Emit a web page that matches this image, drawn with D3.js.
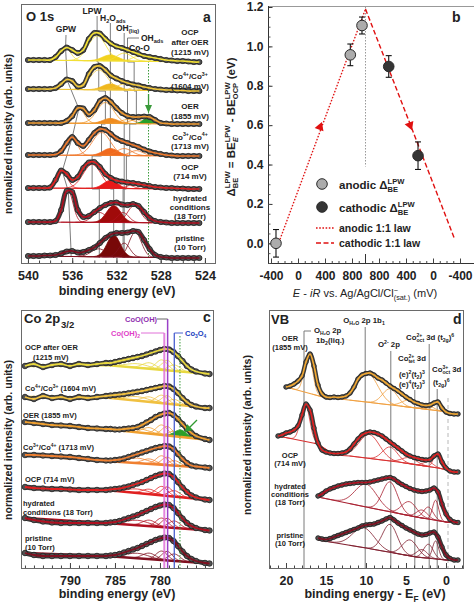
<!DOCTYPE html>
<html>
<head>
<meta charset="utf-8">
<script src="https://cdn.jsdelivr.net/npm/d3@7/dist/d3.min.js"></script>
<style>
html,body{margin:0;padding:0;background:#fff;}
svg{display:block;}
text{font-family:"Liberation Sans",Arial,Helvetica,sans-serif;}
</style>
</head>
<body>
<svg id="fig" width="474" height="603"></svg>
<script>
// ======================= DATA =======================
// ---- Panel a : O 1s (binding energy, stacked intensity) ----
const beA = [540,539.5,539,538.5,538,537.5,537,536.5,536,535.5,535,534.5,534,533.5,533,532.5,532,531.5,531,530.5,530,529.5,529,528.5,528,527.5,527,526.5,526,525.5,525,524.5];
const o1sAfterOER = [203,203,203,203,203,206,212,215.5,213,210,213,224,230,229.5,224,219.5,216.5,215,213,211,209,207,206,205,204,203,202.5,202,202,201.5,201,201];
const o1s1604     = [174,174,174,174,174,175,179,183.5,182,176.5,178,189,196,197,193,187.5,184.5,182,180,178.5,177.5,176,175,174,173.5,173,173,172.5,172.5,172,172,172];
const o1sOER      = [140,140,140,140,140,140,140,142,147,155,154.5,148.5,153,162,165,161,155,150,147,146,146,146.5,146,143,140,139.5,139,139,139,139,139,139];
const o1s1713     = [108,108,108,108,108,108.5,112,120,126,120,117,123,130,134,133,129,124.5,122,120,118,116,113.5,111.5,110,109,108,107.5,107,107,107,107,107];
const o1sOCP      = [75,75,75,75,75.5,83,92.5,89,83,86,95,100.5,101,96,89,85,82.5,81.5,80.5,80,79,78,77,76,75.5,75,75,74.5,74.5,74,74,74];
const o1sHydrated = [41,41,41,41,41,42,53,72,71,53,46,47,51,55,58,60,60.5,58.5,58,59,57,51,45,42,41,40.5,40,40,40,40,40,40];
const o1sPristine = [7,7,7,7.5,7.5,8,9.5,11.5,12,10.5,11,13,15.5,20,25,28.5,30,30,30.5,32,31,23,14,8,6,5.5,5,5,5,5,5,5];
// background end values (left, right)
const o1sBg = [[203,201],[174,172],[140,139],[108,107],[75,74],[41,40],[7,5]];
// fit components [centre eV, height, fwhm]: GPW, LPW, H2O_ads (filled), OH, Co-O (+ green)
const o1sComps = [
  [[536.6,12.5,1.1],[533.75,25,1.9],[532.55,6,1.7],[531.3,8,1.6],[530.0,5,1.4]],
  [[536.45,9,1.1],[533.6,20,1.9],[532.55,6,1.7],[531.3,6,1.6],[530.0,4,1.4]],
  [[535.4,14.5,1.2],[533.0,21,1.8],[532.55,5,1.6],[531.0,4,1.5],[530.2,4,1.4],[529.1,6,1.1]],
  [[536.0,18,1.1],[533.35,23,1.9],[532.55,7,1.6],[531.3,7,1.6],[530.2,5,1.4]],
  [[536.9,17,1.1],[534.2,24,1.9],[532.55,8,1.5],[531.3,5,1.5],[530.3,5,1.4]],
  [[536.35,31,1.0],[533.55,10,1.5],[532.25,17,1.5],[531.4,10,1.2],[530.4,17,1.4]],
  [[536.1,4.5,1.1],[533.6,8,1.6],[532.25,22,1.4],[531.3,14,1.2],[530.3,25,1.3]]
];
const o1sOHads = [531.0,530.4,530.2,530.8,531.1,531.3];
const o1sGreenBE = 529.1;
const o1sLabels = [
  [[['OCP']],[['after OER']],[['(1215 mV)']]],
  [[['Co'],['4+','sup'],['/Co'],['3+','sup']],[['(1604 mV)']]],
  [[['OER']],[['(1855 mV)']]],
  [[['Co'],['3+','sup'],['/Co'],['4+','sup']],[['(1713 mV)']]],
  [[['OCP']],[['(714 mV)']]],
  [[['hydrated']],[['conditions']],[['(18 Torr)']]],
  [[['pristine']],[['(10 Torr)']]]
];
const ticksA = [540,536,532,528,524];

// ---- Panel b : LPW shift vs potential ----
const anodicE = [-326, 775, 948];
const anodicD = [0.00, 0.957, 1.106];
const anodicErr = [0.07, 0.055, 0.043];
const cathodicE = [656, 222];
const cathodicD = [0.898, 0.445];
const cathodicErr = [0.055, 0.07];
const anodicLawE = [-267, 1000], anodicLawD = [0.02, 1.19];
const cathodicLawE = [1000, -311], cathodicLawD = [1.19, 0.03];
const anodicArrow = [326, 0.59], cathodicArrow = [341, 0.60];
const ticksBLeft = [-400,0,400,800], ticksBRight = [800,400,0,-400];
const ticksBY = [0,0.2,0.4,0.6,0.8,1.0,1.2];

// ---- Panel c : Co 2p3/2 ----
const beC = [795,794,793,792,791,790,789,788,787,786,785.5,785,784.5,784,783.5,783,782.5,782,781.5,781,780.5,780,779.5,779,778.5,778,777.5,777,776.5,776,775,774.5];
const co2pAfterOER = [202,204,201,203,204,202,204,203,204,205,205,206,207,208,209,210,211,212,213.5,215,216.5,218,219,218.5,216,212,207,202,198.5,196.5,194.5,194];
const co2p1604     = [171,169,172,170,171,169,171,170,171,172,172.5,173,173.5,174,174.8,175.5,176.3,177,178,179,180,181,182,181.5,179,175,170,166,163,161.5,160,160];
const co2pOER      = [146,145,144,143,142.5,142,141,140,139.5,139,139,138.5,138.5,139,139.5,140,141,143,145.5,148,151,153,154.5,155,153,149,144,139,135,132,129,128];
const co2p1713     = [113,113,112.5,112,111.5,111,110,109,108,107.5,107.5,108,108.5,109.5,111,112.5,114,115.5,117,118.5,120,121,122,121.5,119,114,109,105,102.5,101.5,100.5,100];
const co2pOCP      = [81,80,79.5,79,79,78.5,78,78,78,78,78.5,79,79.5,80.5,81.5,83,84.5,86,88,90,92,93.5,94.5,94,91,86,80.5,76,72.5,70.5,68.5,68];
const co2pHydrated = [50,48,46.5,45.5,45,45,45,45,45,45,45.5,46,47,48.5,50,51.5,53,55,57,59,61,62.5,63.5,63,60,55,49.5,45,42,40,38,37.5];
const co2pPristine = [15,13,12,12,12,12,12,12,12,12,12.5,13,14,15.5,17,18.5,20,22,24,26,28,29.5,30.5,30,27,22,16.5,12,9,7,5,4.5];
const co2pBgBE = [795,786,774.5];
const co2pBg = [[202,203,194],[171,170.5,160],[146,139,128],[113,107,100],[81,78,68],[50,45,37.5],[15,12,4.5]];
const co2pComps = [
  [[782.5,4,3],[781.2,6,1.8],[779.8,10,1.5],[779.2,10,1.4],[778.4,6,1.5]],
  [[782.5,4,3],[781.2,5,1.8],[779.8,8,1.5],[779.2,8,1.4],[778.4,5,1.5]],
  [[782.5,4,3],[781.2,6,1.8],[779.8,10,1.5],[779.2,9,1.4],[778.4,5,1.5],[777.7,7,1.6]],
  [[782.5,5,3],[781.2,5,1.8],[779.8,9,1.5],[779.2,8,1.4],[778.4,5,1.5]],
  [[782.5,4,3],[781.2,5,1.8],[779.8,9,1.5],[779.2,9,1.4],[778.4,6,1.5]],
  [[782.5,5,3],[781.2,6,1.8],[779.8,9,1.5],[779.2,9,1.4],[778.4,7,1.5]],
  [[782.5,5,3],[781.2,6,1.8],[779.8,9,1.5],[779.2,9,1.4],[778.4,7,1.5]]
];
const co2pRefBE = [779.52, 779.15, 778.41, 777.78]; // Co(OH)2, CoO(OH), Co3O4, green
const ticksC = [790,785,780];

// ---- Panel d : valence band ----
const eD = [21,20.5,20,19.5,19,18.5,18,17.5,17,16.5,16,15.5,15,14.5,14,13.5,13,12.5,12,11.5,11,10.5,10,9.5,9,8.5,8,7.5,7,6.5,6,5.5,5,4.5,4,3.5,3,2.5,2,1.5,1,0.5,0,-0.5,-1,-1.5];
const vbOER = [null,null,181,182,184,187,192,206,214,202,183,174,171,170.5,171,170.5,171,172,175,181,189,193,194.5,195,193,190,188,185,182,179.5,177,174,171,168.5,166,164.5,163,162.5,163,165,166,160,156,154.5,154,154];
const vbOCP = [132,133,135,136,138,142,153,164,158,140,125,118,116,115,114.5,114.5,115,116,119,124,129,133,135,136,135.5,134,132,129,126,123,120,117,114,112,110.5,109.5,108.5,108,108.5,112,114,106,100,97,96,96];
const vbHydrated = [null,null,null,null,null,null,null,null,null,null,72,74,77,79,80.5,82,83,84,84.5,85,85.5,85.5,85.5,86,87,88,89,90,90.5,89,86,83.5,81.5,79.5,78,77,76.5,77,78,80,76,64,54,48.5,46,45.5];
const vbPristine = [null,null,null,null,null,null,null,null,null,null,30,29,28.5,29.5,31,32.5,34,35.5,37,38.5,40,42,43,43.5,44,45.5,47,49,50.5,48,45,42.5,40,38,36,34,33,33.5,35,36,31,21,13,9.5,8,8];
const vbBgE = [[20,15.4,10,3.75,-0.25,-1.5],[21,16,14,12,6,1,-1.5],[16,10,3.75,0,-1.5],[16,10,3.75,0,-1.5]];
const vbBgV = [[181,171,166,160,156,154],[132,124,113,112,106,100,96],[71,61,51,46,45],[28,20,11,8,7.5]];
const vbComps = [
  [[17.2,40,1.2],[9.8,29,3.0],[7.0,16,2.2],[4.6,7,2.2],[2.2,4,1.5],[1.2,8,0.9]],
  [[17.6,38,1.3],[9.6,24,3.0],[7.0,14,2.2],[4.6,6,2.2],[2.2,5,1.4],[1.2,14,0.9]],
  [[10.0,23,3.2],[7.0,30,2.2],[4.6,14,2.2],[3.0,8,1.6],[2.2,12,1.4],[1.3,20,0.9]],
  [[10.3,20,3.2],[7.0,28,2.2],[4.5,16,2.2],[3.0,8,1.6],[2.2,14,1.4],[1.3,18,0.9]]
];
const vbRefE = [17.75, 10.1, 6.9, 3.9, 2.1, 1.1];
const vbFermiE = -0.25;
const ticksD = [20,15,10,5,0];

// ======================= DRAWING =======================
const INK = '#222';
const svg = d3.select('#fig');

function gauss(e,c,h,w){ const z=(e-c)/w; return h*Math.exp(-4*Math.LN2*z*z); }

function rich(g, x, y, parts, fs, o){
  o = o || {};
  const t = g.append('text').attr('x',x).attr('y',y).attr('font-size',fs)
    .attr('font-weight', o.weight || 'bold').attr('fill', o.fill || INK)
    .attr('text-anchor', o.anchor || 'start');
  if (o.rotate) t.attr('transform', `rotate(-90 ${x} ${y})`);
  let cur = 0, supLen = 0, pend = 0;
  parts.forEach(p => {
    const s = p[0], type = p[1] || '', it = p[2];
    const shift = type === 'sup' ? -0.4*fs : (type === 'sub' || type === 'subBack') ? 0.28*fs : 0;
    const ts = t.append('tspan').attr('dy', (shift-cur).toFixed(2))
      .attr('font-size', type ? (fs*0.66).toFixed(2) : fs).text(s);
    if (it) ts.attr('font-style','italic');
    const dx = type === 'subBack' ? -supLen : pend;
    if (dx) ts.attr('dx', dx.toFixed(2));
    const len = ts.node().getComputedTextLength();
    pend = 0;
    if (type === 'sup') supLen = len;
    if (type === 'subBack') pend = Math.max(0, supLen - len);
    cur = shift;
  });
  return t;
}

function drawSpectrum(g, x, y, xs, vals, st){
  const pts = xs.map((e,i)=>[e, vals[i]]).filter(d => d[1] !== null);
  const ext = d3.extent(pts, d => d[0]);
  const bg = d3.scaleLinear().domain(st.bgX).range(st.bgV);
  st.comps.forEach((c,i) => {
    const [c0,h,w] = c;
    const lo = Math.max(ext[0], c0-2.3*w), hi = Math.min(ext[1], c0+2.3*w);
    if (hi <= lo) return;
    const n = 50;
    const cp = d3.range(n+1).map(k => { const e = lo+(hi-lo)*k/n; return [e, bg(e), bg(e)+gauss(e,c0,h,w)]; });
    const fc = st.fills && st.fills[i];
    if (fc) g.append('path').datum(cp)
      .attr('d', d3.area().x(d=>x(d[0])).y0(d=>y(d[1])).y1(d=>y(d[2])))
      .attr('fill', fc).attr('stroke','none');
    g.append('path').datum(cp).attr('d', d3.line().x(d=>x(d[0])).y(d=>y(d[2])))
      .attr('fill','none').attr('stroke', fc || st.comp).attr('stroke-width', st.compW || 0.8);
  });
  g.append('path').datum(st.bgX.map((e,i)=>[e, st.bgV[i]]))
    .attr('d', d3.line().x(d=>x(d[0])).y(d=>y(d[1])))
    .attr('fill','none').attr('stroke', st.comp).attr('stroke-width', st.bgW || 1);
  const line = d3.line().curve(d3.curveCatmullRom.alpha(0.5)).x(d=>x(d[0])).y(d=>y(d[1]));
  g.append('path').datum(pts).attr('d', line).attr('fill','none').attr('stroke','#3a3a3a')
    .attr('stroke-width', st.band || 5).attr('stroke-linejoin','round').attr('stroke-linecap','round');
  g.selectAll(null).data(pts).join('circle')
    .attr('cx', d=>x(d[0])).attr('cy', d=>y(d[1])).attr('r', st.r || 2.7)
    .attr('fill','#525252').attr('stroke','#1c1c1c').attr('stroke-width',0.7);
  g.append('path').datum(pts).attr('d', line).attr('fill','none')
    .attr('stroke', st.color).attr('stroke-width', st.fitW || 1.7);
}

function bottomAxis(g, x, y0, major, minor, fmt){
  const gm = g.append('g').attr('transform',`translate(0,${y0})`)
    .call(d3.axisBottom(x).tickValues(minor).tickSize(-2.5).tickFormat(''));
  gm.select('.domain').remove();
  gm.selectAll('line').attr('stroke','#444');
  const gM = g.append('g').attr('transform',`translate(0,${y0})`)
    .call(d3.axisBottom(x).tickValues(major).tickSize(-5).tickPadding(8).tickFormat(fmt));
  gM.select('.domain').remove();
  gM.selectAll('line').attr('stroke','#444');
  gM.selectAll('text').attr('font-size',12.5).attr('font-weight','bold').attr('fill',INK);
  return gM;
}

function frame(g, x0, y0, x1, y1){
  g.append('rect').attr('x',x0+0.5).attr('y',y0+0.5).attr('width',x1-x0).attr('height',y1-y0)
    .attr('fill','none').attr('stroke','#6a6a6a').attr('stroke-width',1);
}

const yLabelParts = [['normalized intensity (arb. units)']];

// ----------------------- Panel a -----------------------
(function(){
  const g = svg.append('g');
  const x = d3.scaleLinear().domain([540.63,523.09]).range([21,215]);
  const y = d3.scaleLinear().domain([0,260]).range([263,3]);
  const spectra = [o1sAfterOER,o1s1604,o1sOER,o1s1713,o1sOCP,o1sHydrated,o1sPristine];
  const colors = ['#f2e034','#f0c63a','#f09a30','#f07a2c','#e02020','#b01020','#801020'];
  const fills  = ['#f2d21e','#f0b81e','#f08c1e','#f06a1e','#e81818','#a00a0a','#780808'];
  frame(g, 21, 4, 215, 263);

  const bounds = o1sBg.slice(0,5).map(b => y(b[1]));
  function stepped(cs, y0, y1){
    const p = [[x(cs[0]), y0]];
    for (let i=0;i<5;i++){ p.push([x(cs[i]), bounds[i]]); p.push([x(cs[i+1]), bounds[i]]); }
    p.push([x(cs[5]), y1]);
    return p;
  }
  const lg = g.append('g').attr('fill','none').attr('stroke','#6e6e6e').attr('stroke-width',0.9);
  const pl = d3.line();
  const gpwPts = [[66,35]].concat(o1sComps.map((c,i) => {
    const bg = d3.scaleLinear().domain([beA[0], beA[beA.length-1]]).range(o1sBg[i]);
    return [x(c[0][0]), y(bg(c[0][0]) + c[0][1])];
  }));
  gpwPts.push([x(o1sComps[6][0][0]), y(o1sBg[6][0])]);
  lg.append('path').attr('d', pl(gpwPts));
  lg.append('path').attr('d', pl(stepped(o1sComps.map(c=>c[1][0]), 16, 258)));
  lg.append('path').attr('d', pl(stepped(o1sComps.map(c=>c[2][0]), 23, 258)));
  lg.append('path').attr('d', pl(stepped(o1sComps.map(c=>c[3][0]), 33, 258)));
  const oh = stepped(o1sOHads, 38, 258); oh.unshift([139,38]);
  lg.append('path').attr('d', pl(oh));
  const gx = x(o1sGreenBE);
  g.append('line').attr('x1',gx).attr('x2',gx).attr('y1',55).attr('y2',258)
    .attr('stroke','#3a9a3a').attr('stroke-width',1).attr('stroke-dasharray','1.5,1.5');
  g.append('line').attr('x1',gx).attr('x2',gx).attr('y1',94).attr('y2',106).attr('stroke','#3a9a3a').attr('stroke-width',1.3);
  g.append('path').attr('d',`M${gx-3.5},105 L${gx+3.5},105 L${gx},113 Z`).attr('fill','#3a9a3a');

  spectra.forEach((vals,i) => {
    const f = {2: fills[i]};
    if (i === 2) f[5] = '#2aa02a';
    drawSpectrum(g, x, y, beA, vals, {
      color: colors[i], comp: colors[i], fills: f, comps: o1sComps[i],
      bgX: [beA[0], beA[beA.length-1]], bgV: o1sBg[i], bgW: 1, r: 2.6, band: 5, fitW: 1.7
    });
  });

  rich(g, 66, 32, [['GPW']], 8.5, {anchor:'middle'});
  rich(g, 92, 13.5, [['LPW']], 8.5, {anchor:'middle'});
  rich(g, 100, 21, [['H'],['2','sub'],['O'],['ads','sub']], 8.5);
  rich(g, 116, 31, [['OH'],['\u2212','sup'],['(liq)','subBack']], 8.5);
  rich(g, 141, 41, [['OH'],['ads','sub']], 8.5);
  rich(g, 129, 51, [['Co-O']], 8.5);

  const labelY = [[32,42,52],[76,86],[106,115.5],[136.5,146],[166.5,176],[197.5,206.5,215.5],[237.5,246.5]];
  o1sLabels.forEach((lines,i) => lines.forEach((parts,j) =>
    rich(g, 190, labelY[i][j]+3, parts, 8, {anchor:'middle'})));

  rich(g, 26, 21, [['O 1s']], 13);
  rich(g, 203, 22, [['a']], 14);
  bottomAxis(g, x, 263, ticksA, d3.range(540,523.5,-1), d=>String(d));
  rich(g, 117, 295, [['binding energy (eV)']], 12.5, {anchor:'middle'});
  rich(g, 12, 134, yLabelParts, 10.6, {anchor:'middle', rotate:true});
})();

// ----------------------- Panel b -----------------------
(function(){
  const g = svg.append('g');
  const xL = d3.scaleLinear().domain([-400,1000]).range([271,365.5]);
  const xR = d3.scaleLinear().domain([1000,-400]).range([365.5,460]);
  const y = d3.scaleLinear().domain([-0.1,1.2]).range([263,7]);
  const fold = xL(1000);
  g.append('line').attr('x1',269).attr('x2',474).attr('y1',6.5).attr('y2',6.5).attr('stroke','#999');
  g.append('line').attr('x1',268.5).attr('x2',268.5).attr('y1',6).attr('y2',263.5).attr('stroke','#333');
  g.append('line').attr('x1',268).attr('x2',474).attr('y1',263.5).attr('y2',263.5).attr('stroke','#333');
  const ya = g.append('g').attr('transform','translate(268.5,0)')
    .call(d3.axisLeft(y).tickValues(ticksBY).tickSize(-4).tickPadding(5).tickFormat(d3.format('.1f')));
  ya.select('.domain').remove();
  ya.selectAll('line').attr('stroke','#333');
  ya.selectAll('text').attr('font-size',12).attr('font-weight','bold').attr('fill',INK);
  const ym = g.append('g').attr('transform','translate(268.5,0)')
    .call(d3.axisLeft(y).tickValues(d3.range(-0.1,1.2,0.05)).tickSize(-2).tickFormat(''));
  ym.select('.domain').remove(); ym.selectAll('line').attr('stroke','#555');
  const a1 = bottomAxis(g, xL, 263.5, ticksBLeft, d3.range(-400,1000,100), d=>String(d));
  const a2 = bottomAxis(g, xR, 263.5, ticksBRight, d3.range(900,-500,-100), d=>String(d));
  a1.selectAll('text').attr('font-size',12); a2.selectAll('text').attr('font-size',12);
  g.append('line').attr('x1',fold).attr('x2',fold).attr('y1',263).attr('y2',254).attr('stroke','#333');
  g.append('line').attr('x1',fold).attr('x2',fold).attr('y1',y(1.2)).attr('y2',y(0.39))
    .attr('stroke','#999').attr('stroke-dasharray','1.5,1.5');
  const aPts = anodicLawE.map((e,i)=>[xL(e), y(anodicLawD[i])]);
  const cPts = cathodicLawE.map((e,i)=>[xR(e), y(cathodicLawD[i])]);
  g.append('path').attr('d', d3.line()(aPts)).attr('fill','none').attr('stroke','#e01010')
    .attr('stroke-width',1.4).attr('stroke-dasharray','1.6,1.6');
  g.append('path').attr('d', d3.line()(cPts)).attr('fill','none').attr('stroke','#e01010')
    .attr('stroke-width',1.4).attr('stroke-dasharray','5,2.5');
  const tri = d3.symbol(d3.symbolTriangle, 38)();
  const angA = Math.atan2(aPts[1][1]-aPts[0][1], aPts[1][0]-aPts[0][0])*180/Math.PI + 90;
  const angC = Math.atan2(cPts[1][1]-cPts[0][1], cPts[1][0]-cPts[0][0])*180/Math.PI + 90;
  g.append('path').attr('d',tri).attr('fill','#e01010')
    .attr('transform',`translate(${xL(anodicArrow[0])},${y(anodicArrow[1])}) rotate(${angA})`);
  g.append('path').attr('d',tri).attr('fill','#e01010')
    .attr('transform',`translate(${xR(cathodicArrow[0])},${y(cathodicArrow[1])}) rotate(${angC})`);
  function pts(xs, E, D, Err, fill){
    E.forEach((e,i) => {
      const px = xs(e), y0 = y(D[i]-Err[i]), y1 = y(D[i]+Err[i]);
      g.append('line').attr('x1',px).attr('x2',px).attr('y1',y0).attr('y2',y1).attr('stroke','#111').attr('stroke-width',1.1);
      g.append('line').attr('x1',px-3).attr('x2',px+3).attr('y1',y0).attr('y2',y0).attr('stroke','#111').attr('stroke-width',1.1);
      g.append('line').attr('x1',px-3).attr('x2',px+3).attr('y1',y1).attr('y2',y1).attr('stroke','#111').attr('stroke-width',1.1);
    });
    g.selectAll(null).data(E).join('circle').attr('cx',e=>xs(e)).attr('cy',(e,i)=>y(D[i]))
      .attr('r',5.3).attr('fill',fill).attr('stroke','#2a2a2a').attr('stroke-width',1);
  }
  pts(xL, anodicE, anodicD, anodicErr, '#acacac');
  pts(xR, cathodicE, cathodicD, cathodicErr, '#353535');
  g.append('circle').attr('cx',322).attr('cy',184).attr('r',5.3).attr('fill','#acacac').attr('stroke','#2a2a2a');
  g.append('circle').attr('cx',322).attr('cy',207).attr('r',5.3).attr('fill','#353535').attr('stroke','#2a2a2a');
  rich(g, 339, 189, [['anodic \u0394'],['LPW','sup'],['BE','subBack']], 11.5);
  rich(g, 339, 212, [['cathodic \u0394'],['LPW','sup'],['BE','subBack']], 11.5);
  g.append('line').attr('x1',316).attr('x2',334).attr('y1',228).attr('y2',228).attr('stroke','#e01010')
    .attr('stroke-width',1.4).attr('stroke-dasharray','1.6,1.6');
  g.append('line').attr('x1',316).attr('x2',334).attr('y1',243).attr('y2',243).attr('stroke','#e01010')
    .attr('stroke-width',1.4).attr('stroke-dasharray','5,2.5');
  rich(g, 339, 232, [['anodic 1:1 law']], 10.5);
  rich(g, 339, 247, [['cathodic 1:1 law']], 10.5);
  rich(g, 452, 22, [['b']], 14);
  rich(g, 365, 297, [['E','',true],[' - '],['iR','',true],[' vs. Ag/AgCl/Cl'],['\u2212','sup'],['(sat.)','subBack'],[' (mV)']], 11, {anchor:'middle', weight:'normal'});
  rich(g, 235, 127, [['\u0394'],['LPW','sup'],['BE','subBack'],[' = BE'],['LPW','sup'],['E','subBack',true],[' - BE'],['LPW','sup'],['OCP','subBack'],[' (eV)']], 11.5, {anchor:'middle', rotate:true});
})();

// ----------------------- Panel c -----------------------
(function(){
  const g = svg.append('g');
  const x = d3.scaleLinear().domain([795.44,774.11]).range([21,213]);
  const y = d3.scaleLinear().domain([0,258]).range([568,310]);
  const spectra = [co2pAfterOER,co2p1604,co2pOER,co2p1713,co2pOCP,co2pHydrated,co2pPristine];
  const colors = ['#e8d840','#f0c040','#f0a030','#f08030','#e02020','#b01020','#801020'];
  frame(g, 21, 310, 213, 568);
  spectra.forEach((vals,i) => {
    const f = {}; if (i === 2) f[5] = '#2aa02a';
    drawSpectrum(g, x, y, beC, vals, {
      color: colors[i], comp: colors[i], fills: f, comps: co2pComps[i],
      bgX: co2pBgBE, bgV: co2pBg[i], bgW: 2.4, r: 2.8, band: 5, fitW: 1.8, compW: 0.8
    });
  });
  const [bOH2, bOOH, bCo3O4, bGreen] = co2pRefBE.map(e => x(e));
  g.append('line').attr('x1',bOH2).attr('x2',bOH2).attr('y1',333).attr('y2',568).attr('stroke','#e070d8').attr('stroke-width',2).attr('opacity',0.85);
  g.append('line').attr('x1',141).attr('x2',bOH2).attr('y1',333).attr('y2',333).attr('stroke','#e070d8').attr('stroke-width',1);
  g.append('line').attr('x1',bOOH).attr('x2',bOOH).attr('y1',319).attr('y2',568).attr('stroke','#9a40c8').attr('stroke-width',1.5);
  g.append('line').attr('x1',157).attr('x2',bOOH).attr('y1',319).attr('y2',319).attr('stroke','#666').attr('stroke-width',1);
  g.append('line').attr('x1',bCo3O4).attr('x2',bCo3O4).attr('y1',333).attr('y2',568).attr('stroke','#4a60d0').attr('stroke-width',1.3);
  g.append('line').attr('x1',bCo3O4).attr('x2',183).attr('y1',333).attr('y2',333).attr('stroke','#4a60d0').attr('stroke-width',1);
  g.append('line').attr('x1',bGreen).attr('x2',bGreen).attr('y1',336).attr('y2',568).attr('stroke','#3a9a3a').attr('stroke-dasharray','1.5,1.5');
  rich(g, 125, 322, [['CoO(OH)']], 7.5, {fill:'#9030b0'});
  rich(g, 111, 336, [['Co(OH)'],['2','sub']], 7.5, {fill:'#e040c8'});
  rich(g, 185, 336, [['Co'],['3','sub'],['O'],['4','sub']], 7.5, {fill:'#2040c0'});
  g.append('line').attr('x1',197).attr('y1',420).attr('x2',189).attr('y2',428).attr('stroke','#2f9a2f').attr('stroke-width',1.3);
  g.append('path').attr('d','M185,432 L187,424 L193,430 Z').attr('fill','#2f9a2f');
  const L = [
    [25,350,[['OCP after OER']]],[33,360,[['(1215 mV)']]],
    [25,391,[['Co'],['4+','sup'],['/Co'],['3+','sup'],[' (1604 mV)']]],
    [23,418,[['OER (1855 mV)']]],
    [23,450,[['Co'],['3+','sup'],['/Co'],['4+','sup'],[' (1713 mV)']]],
    [25,482,[['OCP (714 mV)']]],
    [23,506,[['hydrated']]],[23,515,[['conditions (18 Torr)']]],
    [25,541,[['pristine']]],[25,550,[['(10 Torr)']]]
  ];
  L.forEach(l => rich(g, l[0], l[1], l[2], 7.5));
  rich(g, 24, 323, [['Co 2p']], 13);
  g.append('text').attr('x',61).attr('y',328).attr('font-size',9.5).attr('font-weight','bold').attr('fill',INK).text('3/2');
  rich(g, 203, 322, [['c']], 14);
  bottomAxis(g, x, 568, ticksC, d3.range(795,774,-1), d=>String(d));
  rich(g, 117, 598, [['binding energy (eV)']], 12.5, {anchor:'middle'});
  rich(g, 12, 440, yLabelParts, 10.6, {anchor:'middle', rotate:true});
})();

// ----------------------- Panel d -----------------------
(function(){
  const g = svg.append('g');
  const x = d3.scaleLinear().domain([22.125,-2.125]).range([269,463]);
  const y = d3.scaleLinear().domain([0,258]).range([568,310]);
  const spectra = [vbOER, vbOCP, vbHydrated, vbPristine];
  const colors = ['#f2a832','#e02020','#b01020','#801020'];
  const comps = ['#f0a040','#d83030','#a82030','#802030'];
  frame(g, 269, 310, 463, 568);
  const tops = [331, 327, 351, 390, 344, 389];
  vbRefE.forEach((e,i) => g.append('line').attr('x1',x(e)).attr('x2',x(e)).attr('y1',tops[i]).attr('y2',568)
    .attr('stroke','#7a7a7a').attr('stroke-width',1));
  g.append('line').attr('x1',x(vbRefE[0])).attr('x2',x(vbRefE[0])+7).attr('y1',331).attr('y2',331).attr('stroke','#7a7a7a');
  g.append('line').attr('x1',x(vbFermiE)).attr('x2',x(vbFermiE)).attr('y1',398).attr('y2',568)
    .attr('stroke','#b8b8b8').attr('stroke-width',1).attr('stroke-dasharray','4,3');
  spectra.forEach((vals,i) => {
    drawSpectrum(g, x, y, eD, vals, {
      color: colors[i], comp: comps[i], fills: {}, comps: vbComps[i],
      bgX: vbBgE[i], bgV: vbBgV[i], bgW: 1.1, r: 2.3, band: 4.6, fitW: 1.7, compW: 0.8
    });
  });
  const fs = 7.8;
  rich(g, 314, 333, [['O'],['H\u2082O','sub'],[' 2p']], fs);
  rich(g, 316, 343, [['1b'],['2','sub'],['(liq.)']], fs);
  rich(g, 364, 323, [['O'],['H\u2082O','sub'],[' 2p 1b'],['1','sub']], fs, {anchor:'middle'});
  rich(g, 378, 347, [['O'],['2-','sup'],[' 2p']], fs);
  rich(g, 398, 361, [['Co'],['2+','sup'],['tet','subBack'],['  3d']], fs);
  rich(g, 399, 377, [['(e)'],['2','sup'],['(t'],['2','sub'],[')'],['3','sup']], fs);
  rich(g, 399, 387, [['(e)'],['4','sup'],['(t'],['2','sub'],[')'],['3','sup']], fs);
  rich(g, 406, 340, [['Co'],['2+','sup'],['oct','subBack'],[' 3d (t'],['2g','sub'],[')'],['6','sup']], fs);
  rich(g, 432, 372, [['Co'],['3+','sup'],['oct','subBack'],[' 3d']], fs);
  rich(g, 433, 385, [['(t'],['2g','sub'],[')'],['6','sup']], fs);
  const L = [[341,'OER'],[350,'(1855 mV)'],[458,'OCP'],[466,'(714 mV)'],[489,'hydrated'],[497,'conditions'],[505,'(18 Torr)'],[538,'pristine'],[546,'(10 Torr)']];
  L.forEach(l => rich(g, 290, l[0], [[l[1]]], 7.5, {anchor:'middle'}));
  rich(g, 271, 324, [['VB']], 13);
  rich(g, 453, 324, [['d']], 14);
  bottomAxis(g, x, 568, ticksD, d3.range(22,-3,-1), d=>String(d));
  rich(g, 375, 598, [['binding energy - E'],['F','sub'],[' (eV)']], 12.5, {anchor:'middle'});
  rich(g, 251, 435, yLabelParts, 10.6, {anchor:'middle', rotate:true});
})();
</script>
</body>
</html>
